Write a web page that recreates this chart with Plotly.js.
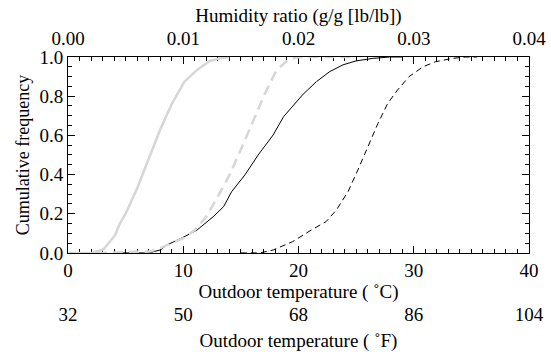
<!DOCTYPE html>
<html>
<head>
<meta charset="utf-8">
<script src="https://cdn.plot.ly/plotly-3.0.1.min.js"></script>
<style>
html,body{margin:0;padding:0;background:#fff;}
</style>
</head>
<body>
<div id="chart" style="width:551px;height:352px;"></div>
<script>
// Humidity ratio CDFs (top axis)
const humRatioSolid = [0.0, 0.0021, 0.0031, 0.0041, 0.0045, 0.005, 0.006, 0.007, 0.008, 0.009, 0.0101, 0.0112, 0.0123, 0.0132, 0.014];
const cdfHumSolid   = [0, 0, 0.019, 0.092, 0.15, 0.2, 0.33, 0.48, 0.63, 0.76, 0.874, 0.934, 0.98, 0.993, 1.0];
const humRatioDashed = [0.0025, 0.0065, 0.0071, 0.008, 0.0089, 0.010, 0.011, 0.012, 0.013, 0.0141, 0.0151, 0.0161, 0.0171, 0.0181, 0.0192, 0.0201, 0.025];
const cdfHumDashed   = [0, 0.003, 0.007, 0.025, 0.046, 0.075, 0.117, 0.185, 0.287, 0.407, 0.542, 0.68, 0.815, 0.934, 0.99, 1.0, 1.0];
// Outdoor temperature CDFs (bottom axis, °C)
const tempSolid = [4, 7, 8, 8.6, 10, 11.2, 12.6, 13.5, 14.2, 15.35, 16.5, 17.8, 18.7, 19.5, 20.4, 21.55, 22.7, 23.86, 25, 26.45, 27.9, 29];
const cdfTempSolid = [0, 0, 0.015, 0.041, 0.08, 0.117, 0.185, 0.236, 0.313, 0.398, 0.5, 0.602, 0.695, 0.75, 0.81, 0.874, 0.925, 0.96, 0.98, 0.993, 1.0, 1.0];
const tempDashed = [15, 16.65, 17.8, 19.5, 21, 22.4, 23.3, 24.3, 25.15, 26, 26.9, 27.75, 28.6, 29.6, 30.8, 31.9, 33.4, 34.5, 35.5];
const cdfTempDashed = [0, 0, 0.015, 0.058, 0.113, 0.16, 0.22, 0.313, 0.423, 0.542, 0.662, 0.764, 0.832, 0.9, 0.95, 0.976, 0.993, 1.0, 1.0];
// Fahrenheit tick labels
const fahrenheitTicks = [32, 50, 68, 86, 104];

const FONT = 'Liberation Serif, Times New Roman, serif';
const GRAY = '#d6d6d6';

const traces = [
  {x: humRatioSolid, y: cdfHumSolid, xaxis: 'x2', yaxis: 'y', mode: 'lines',
   line: {color: GRAY, width: 2.5}, hoverinfo: 'skip'},
  {x: humRatioDashed, y: cdfHumDashed, xaxis: 'x2', yaxis: 'y', mode: 'lines',
   line: {color: GRAY, width: 2.5, dash: '10px,6px'}, hoverinfo: 'skip'},
  {x: tempSolid, y: cdfTempSolid, xaxis: 'x', yaxis: 'y', mode: 'lines',
   line: {color: 'black', width: 1}, hoverinfo: 'skip'},
  {x: tempDashed, y: cdfTempDashed, xaxis: 'x', yaxis: 'y', mode: 'lines',
   line: {color: 'black', width: 1, dash: '6px,4px'}, hoverinfo: 'skip'},
  {x: fahrenheitTicks, y: fahrenheitTicks.map(() => null), xaxis: 'x3', yaxis: 'y',
   mode: 'none', hoverinfo: 'skip'}
];

function tf(s) { return {family: FONT, size: s || 19, color: 'black'}; }

const layout = {
  width: 551, height: 352,
  margin: {l: 68, r: 22, t: 57, b: 51},
  paper_bgcolor: 'white', plot_bgcolor: 'white',
  showlegend: false,
  font: tf(),
  xaxis: {
    range: [0, 40], dtick: 10, tick0: 0,
    ticks: 'inside', ticklen: 7, tickcolor: 'black', tickwidth: 1,
    minor: {dtick: 1, ticks: 'inside', ticklen: 4, tickcolor: 'black'},
    showline: true, linecolor: 'black', linewidth: 1, mirror: false,
    showgrid: false, zeroline: false, tickfont: tf(), layer: 'below traces',
    title: {text: 'Outdoor temperature ( ˚C)', font: tf(), standoff: 1},
    anchor: 'y'
  },
  xaxis2: {
    overlaying: 'x', side: 'top', anchor: 'y',
    range: [0, 0.04], dtick: 0.01, tick0: 0, tickformat: '.2f',
    ticks: 'inside', ticklen: 7, tickcolor: 'black', tickwidth: 1,
    minor: {dtick: 0.001, ticks: 'inside', ticklen: 4, tickcolor: 'black'},
    showline: true, linecolor: 'black', linewidth: 1, layer: 'below traces',
    showgrid: false, zeroline: false, tickfont: tf(), ticklabelstandoff: 3,
    title: {text: 'Humidity ratio (g/g [lb/lb])', font: tf(), standoff: 0}
  },
  xaxis3: {
    overlaying: 'x', side: 'bottom', anchor: 'free', position: 0,
    range: [32, 104], tickvals: fahrenheitTicks,
    ticks: '', showline: false, showgrid: false, zeroline: false, tickfont: tf(),
    title: {text: 'Outdoor temperature ( ˚F)', font: tf(), standoff: 12}
  },
  yaxis: {
    domain: [0.197, 1],
    range: [0, 1], dtick: 0.2, tick0: 0, tickformat: '.1f',
    ticks: 'inside', ticklen: 7, tickcolor: 'black', tickwidth: 1,
    minor: {dtick: 0.05, ticks: 'inside', ticklen: 4, tickcolor: 'black'},
    showline: true, linecolor: 'black', linewidth: 1, mirror: 'ticks',
    showgrid: false, zeroline: false, tickfont: tf(), layer: 'below traces',
    title: {text: 'Cumulative frequency', font: tf(18), standoff: 5}
  }
};

Plotly.newPlot('chart', traces, layout, {displayModeBar: false, staticPlot: true});
</script>
</body>
</html>
